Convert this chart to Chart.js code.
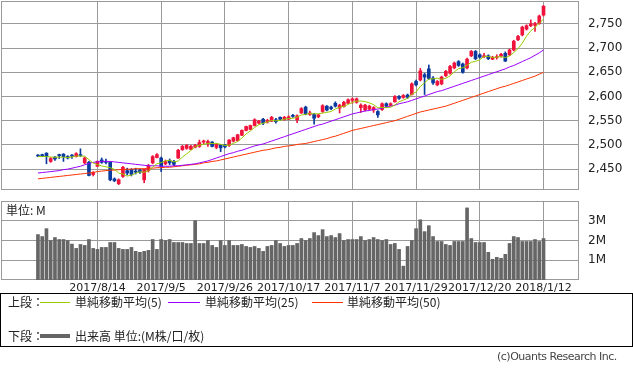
<!DOCTYPE html>
<html><head><meta charset="utf-8">
<script src="https://cdn.jsdelivr.net/npm/chart.js@4.4.0/dist/chart.umd.min.js"></script>
<style>
html,body{margin:0;padding:0;background:#fff;}
body{width:633px;height:370px;overflow:hidden;position:relative;font-family:"Noto Sans CJK JP","Noto Sans",sans-serif;color:#222;}
canvas{position:absolute;left:0;}
#price{top:0;}
#vol{top:195px;}
.t{position:absolute;font-size:12px;line-height:16px;white-space:nowrap;}
.ln{position:absolute;height:1px;}
#box{position:absolute;left:0;top:293px;width:631px;height:52px;border:1px solid #000;}
</style></head><body>
<canvas id="price" width="633" height="192"></canvas>
<canvas id="vol" width="633" height="100"></canvas>
<div class="t" style="left:6px;top:202px;">単位: M</div>
<div id="box"></div>
<div class="t" style="left:8px;top:294px;">上段：</div>
<div class="ln" style="left:40px;top:302px;width:30px;background:#99cc00;"></div>
<div class="t" style="left:75px;top:294px;">単純移動平均(5)</div>
<div class="ln" style="left:168px;top:302px;width:32px;background:#9900ff;"></div>
<div class="t" style="left:205px;top:294px;">単純移動平均(25)</div>
<div class="ln" style="left:312px;top:302px;width:31px;background:#ff3300;"></div>
<div class="t" style="left:347px;top:294px;">単純移動平均(50)</div>
<div class="t" style="left:8px;top:328px;">下段：</div>
<div class="ln" style="left:40px;top:334px;width:30px;height:4px;background:#666;"></div>
<div class="t" style="left:75px;top:328px;">出来高 単位:(M株/口/枚)</div>
<div class="t" style="left:497px;top:349px;font-size:11px;color:#444;font-family:'DejaVu Sans',sans-serif;letter-spacing:-0.5px;">(c)Ouants Research Inc.</div>
<script>
const gridDates = ['2017/8/14','2017/9/5','2017/9/26','2017/10/17','2017/11/7','2017/11/29','2017/12/20','2018/1/12'];
const gridIdx = [14,29,44,59,74,89,104,119];
const priceTicks = [2450,2500,2550,2600,2650,2700,2750];
const volTicks = [1,2,3];

const opens = [2478,2480,2483,2466,2475,2479,2481,2476,2478,2476,
2480,2463,2464,2439,2456,2469,2465,2464,2430,2420,
2435,2447,2449,2445,2448,2428,2447,2463,2474,2473,
2461,2468,2466,2473,2490,2493,2491,2495,2497,2506,
2503,2506,2495,2500,2500,2499,2508,2509,2520,2530,
2532,2540,2545,2553,2547,2549,2552,2557,2552,2553,
2560,2552,2566,2578,2563,2563,2558,2569,2580,2578,
2586,2576,2579,2586,2592,2588,2577,2572,2574,2572,
2569,2573,2585,2582,2589,2600,2598,2603,2604,2631,
2634,2645,2657,2638,2624,2626,2643,2648,2659,2672,
2667,2659,2684,2693,2686,2682,2684,2677,2680,2683,
2689,2686,2696,2717,2727,2739,2746,2747,2751,2768];
const highs = [2480,2481,2484,2474,2476,2481,2482,2478,2480,2484,
2492,2475,2466,2445,2467,2473,2471,2465,2432,2430,
2456,2452,2451,2452,2450,2450,2460,2478,2482,2475,
2469,2471,2468,2491,2499,2501,2499,2501,2510,2510,
2510,2507,2503,2501,2501,2511,2516,2522,2531,2539,
2541,2554,2551,2555,2553,2559,2555,2558,2559,2560,
2563,2562,2577,2580,2570,2565,2563,2583,2581,2580,
2589,2584,2590,2595,2597,2597,2585,2584,2582,2579,
2571,2587,2587,2587,2602,2602,2604,2605,2628,2634,
2658,2648,2665,2641,2633,2642,2654,2664,2671,2674,
2669,2679,2695,2695,2688,2689,2686,2683,2686,2689,
2692,2698,2716,2726,2745,2748,2758,2753,2768,2788];
const lows = [2476,2476,2461,2464,2468,2472,2466,2471,2472,2475,
2476,2461,2436,2436,2455,2462,2461,2426,2424,2418,
2433,2438,2436,2440,2441,2422,2444,2461,2473,2445,
2459,2459,2457,2472,2489,2491,2490,2494,2495,2502,
2497,2496,2492,2486,2494,2497,2506,2508,2519,2529,
2531,2539,2543,2542,2545,2548,2545,2550,2551,2552,
2557,2546,2565,2562,2561,2543,2556,2567,2570,2573,
2578,2566,2578,2585,2586,2586,2567,2570,2572,2567,
2557,2571,2578,2580,2588,2594,2596,2596,2603,2622,
2632,2604,2635,2625,2622,2624,2641,2646,2657,2662,
2648,2657,2682,2676,2679,2680,2676,2676,2677,2681,
2672,2684,2694,2715,2725,2737,2744,2734,2749,2766];
const closes = [2477,2477,2476,2472,2471,2478,2476,2473,2477,2482,
2478,2473,2437,2443,2466,2464,2464,2428,2426,2428,
2454,2442,2439,2444,2444,2449,2457,2476,2480,2456,
2466,2463,2460,2489,2497,2499,2497,2499,2505,2507,
2507,2497,2501,2494,2496,2510,2515,2521,2530,2538,
2540,2552,2549,2545,2550,2557,2548,2553,2557,2558,
2559,2560,2575,2564,2566,2555,2562,2581,2572,2575,
2580,2582,2588,2593,2595,2595,2582,2582,2580,2577,
2562,2585,2580,2585,2600,2596,2602,2598,2626,2624,
2653,2640,2637,2628,2631,2640,2652,2662,2669,2664,
2650,2677,2693,2678,2681,2684,2678,2681,2682,2687,
2673,2696,2714,2724,2743,2746,2750,2750,2766,2786];
const volumes = [2.3,2.2,2.6,2.0,2.15,2.05,2.05,2.0,1.82,1.6,
1.8,1.75,2.05,1.6,1.55,1.65,1.65,1.9,1.9,1.6,
1.55,1.55,1.65,1.45,1.4,1.45,1.5,2.05,1.55,2.05,
2.0,2.05,1.9,1.9,1.9,1.85,1.85,3.0,1.85,1.85,
2.0,1.75,1.65,2.0,1.75,2.0,1.75,1.75,1.8,1.7,
1.65,1.7,1.6,1.45,1.7,1.75,2.0,1.85,1.7,1.75,
1.75,1.85,2.1,2.0,2.1,2.4,2.25,2.55,2.2,2.25,
2.15,2.35,2.0,2.05,2.05,2.05,2.2,2.0,2.05,2.15,
2.05,2.0,2.05,1.8,1.85,1.55,0.7,1.7,2.0,2.6,
3.05,2.45,2.75,2.2,1.95,1.95,1.8,1.75,1.95,1.95,
1.95,3.65,2.1,1.9,1.9,1.9,1.4,1.05,1.15,1.1,
1.3,1.85,2.2,2.15,1.95,1.95,1.95,2.05,1.95,2.1];
const ma5 = [2476,2476,2476,2475,2474.6,2474.8,2474.6,2474,2475,2477.2,
2477.2,2476.6,2469.4,2462.6,2459.4,2456.6,2454.8,2453,2449.6,2442,
2440,2435.6,2437.8,2441.4,2444.6,2443.6,2446.6,2454,2461.2,2463.6,
2467,2468.2,2465,2466.8,2475,2481.6,2488.4,2496.2,2499.4,2501.4,
2503,2503,2503.4,2501.2,2499,2499.6,2503.2,2507.2,2514.4,2522.8,
2528.8,2536.2,2541.8,2544.8,2547.2,2550.6,2549.8,2550.6,2553,2554.6,
2555,2557.4,2561.8,2563.2,2564.8,2564,2564.4,2565.6,2567.2,2569,
2574,2578,2579.4,2583.6,2587.6,2590.6,2590.6,2589.4,2586.8,2583.2,
2576.6,2577.2,2576.8,2577.8,2582.4,2589.2,2592.6,2596.2,2604.4,2609.2,
2620.6,2628.2,2636,2636.4,2637.8,2635.2,2637.6,2642.6,2650.8,2657.4,
2659.4,2664.4,2670.6,2672.4,2675.8,2682.6,2682.8,2680.4,2681.2,2682.4,
2680.2,2683.8,2690.4,2698.8,2710,2724.6,2735.4,2742.6,2751,2759.6];
const ma25 = [2442,2443,2444,2445,2446,2447,2449,2450,2452,2454,
2456,2459,2462,2464,2465,2466,2466,2466,2465,2464,
2463,2462,2461,2460,2459,2458,2457,2457,2457,2456,
2456,2456,2457,2457,2458,2459,2460,2461,2463,2465,
2467,2470,2473,2476,2479,2482,2484,2487,2489,2492,
2495,2498,2500,2502,2505,2508,2511,2514,2517,2520,
2523,2526,2529,2532,2535,2538,2541,2543,2546,2549,
2552,2555,2558,2561,2564,2566,2568,2570,2571,2573,
2574,2576,2578,2580,2582,2585,2587,2589,2592,2595,
2598,2601,2604,2607,2610,2612,2615,2618,2621,2624,
2627,2630,2633,2636,2639,2642,2645,2648,2651,2654,
2657,2661,2664,2668,2672,2676,2680,2685,2690,2696];
const ma50 = [2430,2431,2432,2433,2434,2435,2436,2437,2438,2439,
2440,2441,2442,2443,2445,2446,2447,2448,2448,2449,
2449,2450,2450,2451,2451,2451,2452,2452,2453,2453,
2454,2454,2455,2456,2457,2458,2459,2460,2461,2463,
2464,2466,2467,2469,2471,2473,2475,2477,2479,2481,
2483,2485,2487,2489,2490,2492,2494,2495,2497,2498,
2499,2501,2502,2503,2505,2507,2509,2511,2513,2516,
2518,2521,2524,2527,2530,2532,2534,2536,2538,2540,
2542,2544,2546,2548,2550,2553,2556,2559,2562,2565,
2568,2570,2572,2574,2576,2578,2580,2583,2586,2589,
2592,2595,2598,2601,2604,2607,2610,2613,2616,2619,
2621,2624,2627,2630,2633,2636,2639,2642,2646,2650];

const UP = '#f0143c', DOWN = '#0a3a9e', GRID = '#9a9a9a';
const candleColors = opens.map((o,i) => closes[i] >= o ? UP : DOWN);

const frame = {
  id: 'frame',
  beforeDatasetsDraw(chart) {
    const {ctx, chartArea: a} = chart;
    ctx.save();
    ctx.strokeStyle = GRID; ctx.lineWidth = 1;
    ctx.strokeRect(Math.round(a.left) + 0.5, Math.round(a.top) + 0.5,
      Math.round(a.right - a.left) - 1, Math.round(a.bottom - a.top) - 1);
    ctx.restore();
  }
};

const xRange = {min: -8.7, max: 127.35};
const xTicksFn = s => { s.ticks = gridIdx.map(v => ({value: v})); };
const noPad = s => { s.paddingTop = 0; s.paddingBottom = 0; s.paddingLeft = 0; s.paddingRight = 0; };

function line(data, color, order) {
  return {type: 'line', data: data.map((v,i) => ({x: i, y: v})), borderColor: color,
    borderWidth: 1, pointRadius: 0, tension: 0, order: order};
}

new Chart(document.getElementById('price'), {
  type: 'bar',
  data: {datasets: [
    line(ma5, '#99cc00', 0),
    line(ma25, '#9900ff', 1),
    line(ma50, '#ff3300', 2),
    {label: 'body', data: opens.map((o,i) => ({x: i, y: [Math.min(o, closes[i]), Math.max(o, closes[i])]})),
      backgroundColor: candleColors, barThickness: 3, minBarLength: 1, grouped: false, order: 3},
    {label: 'wick', data: lows.map((l,i) => ({x: i, y: [l, highs[i]]})),
      backgroundColor: candleColors, barThickness: 1, grouped: false, order: 4}
  ]},
  options: {
    responsive: false, animation: false, devicePixelRatio: 1,
    layout: {padding: {left: 1, top: 1, right: 0, bottom: 0}},
    plugins: {legend: {display: false}, tooltip: {enabled: false}},
    scales: {
      x: {type: 'linear', min: xRange.min, max: xRange.max, offset: false,
        grid: {color: GRID, drawTicks: false, offset: false}, border: {display: false},
        ticks: {display: false}, afterBuildTicks: xTicksFn,
        afterFit: s => { s.height = 2; noPad(s); }},
      y: {position: 'right', min: 2407, max: 2797,
        grid: {color: GRID, drawTicks: false}, border: {display: false},
        ticks: {padding: 9, color: '#222', font: {family: 'DejaVu Sans', size: 12},
          callback: v => v.toLocaleString('en-US')},
        afterBuildTicks: s => { s.ticks = priceTicks.map(v => ({value: v})); },
        afterFit: s => { s.width = 54; noPad(s); }}
    }
  },
  plugins: [frame]
});

new Chart(document.getElementById('vol'), {
  type: 'bar',
  data: {datasets: [
    {label: 'vol', data: volumes.map((v,i) => ({x: i, y: v})), backgroundColor: '#666666',
      barThickness: 3, grouped: false}
  ]},
  options: {
    responsive: false, animation: false, devicePixelRatio: 1,
    layout: {padding: {left: 1, top: 6, right: 0, bottom: 0}},
    plugins: {legend: {display: false}, tooltip: {enabled: false}},
    scales: {
      x: {type: 'linear', min: xRange.min, max: xRange.max, offset: false,
        grid: {color: GRID, drawTicks: false, offset: false}, border: {display: false},
        ticks: {autoSkip: false, maxRotation: 0, padding: 2, color: '#222',
          font: {family: 'DejaVu Sans', size: 11},
          callback: v => gridDates[gridIdx.indexOf(v)]},
        afterBuildTicks: xTicksFn, afterFit: s => { s.height = 15; noPad(s); }},
      y: {position: 'right', min: 0, max: 4,
        grid: {color: GRID, drawTicks: false}, border: {display: false},
        ticks: {padding: 9, color: '#222', font: {family: 'DejaVu Sans', size: 12},
          callback: v => v + 'M'},
        afterBuildTicks: s => { s.ticks = volTicks.map(v => ({value: v})); },
        afterFit: s => { s.width = 54; noPad(s); }}
    }
  },
  plugins: [frame]
});
</script>
</body></html>
